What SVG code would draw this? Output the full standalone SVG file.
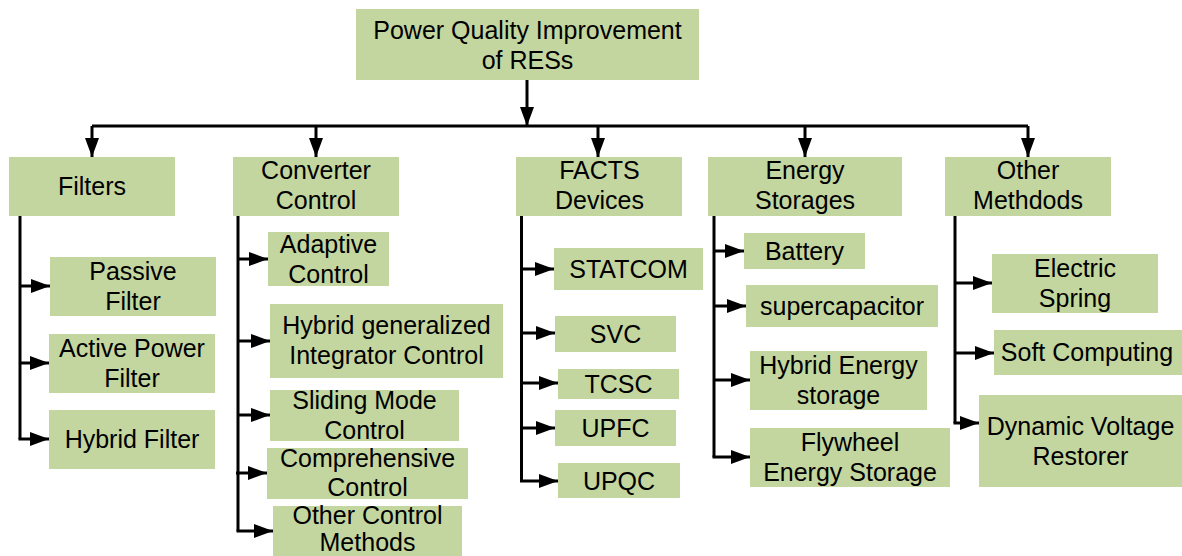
<svg xmlns="http://www.w3.org/2000/svg" width="1182" height="556" viewBox="0 0 1182 556">
<style>
.box{fill:#c4d69f;stroke:none}
.t{font-family:"Liberation Sans",Arial,sans-serif;font-size:25px;fill:#000;text-anchor:middle}
.c{fill:none;stroke:#000;stroke-width:3}
.a{fill:none;stroke:#000;stroke-width:3;marker-end:url(#ah)}
</style>
<defs>
<marker id="ah" viewBox="0 0 19 14" refX="19" refY="7" markerWidth="19" markerHeight="14" markerUnits="userSpaceOnUse" orient="auto">
<path d="M0,0 L19,7 L0,14 Z" fill="#000"/>
</marker>
</defs>
<rect width="1182" height="556" fill="#fff"/>

<g id="connectors">
<path class="a" d="M527,80 V126"/>
<path class="c" d="M92,126 H1028"/>
<path class="a" d="M92,126 V157"/>
<path class="a" d="M316,126 V157"/>
<path class="a" d="M598,126 V157"/>
<path class="a" d="M805,126 V157"/>
<path class="a" d="M1028,126 V157"/>

<path class="c" d="M20,216 V439"/>
<path class="a" d="M20,286 H50"/>
<path class="a" d="M20,363 H49"/>
<path class="a" d="M18.5,439 H49"/>

<path class="c" d="M238,216 V531"/>
<path class="a" d="M238,259 H268"/>
<path class="a" d="M238,341 H270"/>
<path class="a" d="M238,415 H270"/>
<path class="a" d="M236,473 H267"/>
<path class="a" d="M236.5,531 H273"/>

<path class="c" d="M521.5,216 V481"/>
<path class="a" d="M521.5,269 H554"/>
<path class="a" d="M521.5,333 H555"/>
<path class="a" d="M521.5,383 H558"/>
<path class="a" d="M521.5,428 H555"/>
<path class="a" d="M520,481 H558"/>

<path class="c" d="M714,216 V457"/>
<path class="a" d="M714,251 H744"/>
<path class="a" d="M714,306 H746"/>
<path class="a" d="M714,380 H750"/>
<path class="a" d="M712.5,457 H750"/>

<path class="c" d="M955,216 V423"/>
<path class="a" d="M955,283 H992"/>
<path class="a" d="M955,353 H994"/>
<path class="a" d="M953.5,423 H979"/>
</g>

<g id="root"><rect class="box" x="356" y="9" width="343" height="71"/><text class="t" x="527.5" y="38.5">Power Quality Improvement</text><text class="t" x="527.5" y="68.5">of RESs</text></g>

<g id="filters"><rect class="box" x="9" y="157" width="166" height="59"/><text class="t" x="92" y="194.5">Filters</text></g>
<g id="converter"><rect class="box" x="233" y="157" width="166" height="59"/><text class="t" x="316" y="179">Converter</text><text class="t" x="316" y="209">Control</text></g>
<g id="facts"><rect class="box" x="516" y="157" width="166" height="59"/><text class="t" x="599.5" y="179">FACTS</text><text class="t" x="599.5" y="209">Devices</text></g>
<g id="energy"><rect class="box" x="708" y="157" width="194" height="59"/><text class="t" x="805" y="179">Energy</text><text class="t" x="805" y="209">Storages</text></g>
<g id="other"><rect class="box" x="945" y="157" width="166" height="59"/><text class="t" x="1028" y="179">Other</text><text class="t" x="1028" y="209">Methdods</text></g>

<g id="passive"><rect class="box" x="50" y="257" width="166" height="59"/><text class="t" x="133" y="280">Passive</text><text class="t" x="133" y="310">Filter</text></g>
<g id="active"><rect class="box" x="49" y="334" width="166" height="59"/><text class="t" x="132" y="357">Active Power</text><text class="t" x="132" y="387">Filter</text></g>
<g id="hybridfilter"><rect class="box" x="49" y="410" width="166" height="59"/><text class="t" x="132" y="448">Hybrid Filter</text></g>

<g id="adaptive"><rect class="box" x="268" y="232" width="121" height="54"/><text class="t" x="328.5" y="253">Adaptive</text><text class="t" x="328.5" y="282.5">Control</text></g>
<g id="hgic"><rect class="box" x="270" y="304" width="233" height="74"/><text class="t" x="386.5" y="334">Hybrid generalized</text><text class="t" x="386.5" y="364">Integrator Control</text></g>
<g id="sliding"><rect class="box" x="270" y="390" width="189" height="51"/><text class="t" x="364.5" y="408.5">Sliding Mode</text><text class="t" x="364.5" y="438.5">Control</text></g>
<g id="comprehensive"><rect class="box" x="267" y="448" width="201" height="51"/><text class="t" x="367.5" y="466.5">Comprehensive</text><text class="t" x="367.5" y="496">Control</text></g>
<g id="othercontrol"><rect class="box" x="273" y="506" width="189" height="56"/><text class="t" x="367.5" y="524">Other Control</text><text class="t" x="367.5" y="551">Methods</text></g>

<g id="statcom"><rect class="box" x="554" y="248" width="149" height="42"/><text class="t" x="628.5" y="277.5">STATCOM</text></g>
<g id="svc"><rect class="box" x="555" y="316" width="121" height="36"/><text class="t" x="615.5" y="342.5">SVC</text></g>
<g id="tcsc"><rect class="box" x="558" y="369" width="121" height="30"/><text class="t" x="618.5" y="392.5">TCSC</text></g>
<g id="upfc"><rect class="box" x="555" y="410" width="121" height="36"/><text class="t" x="615.5" y="436.5">UPFC</text></g>
<g id="upqc"><rect class="box" x="558" y="463" width="122" height="35"/><text class="t" x="619" y="489.5">UPQC</text></g>

<g id="battery"><rect class="box" x="744" y="233" width="121" height="36"/><text class="t" x="804.5" y="259.5">Battery</text></g>
<g id="supercap"><rect class="box" x="746" y="285" width="192" height="42"/><text class="t" x="842" y="314.5">supercapacitor</text></g>
<g id="hes"><rect class="box" x="750" y="351" width="177" height="59"/><text class="t" x="838.5" y="374">Hybrid Energy</text><text class="t" x="838.5" y="404">storage</text></g>
<g id="flywheel"><rect class="box" x="750" y="428" width="200" height="59"/><text class="t" x="850" y="451">Flywheel</text><text class="t" x="850" y="481">Energy Storage</text></g>

<g id="spring"><rect class="box" x="992" y="254" width="166" height="59"/><text class="t" x="1075" y="277">Electric</text><text class="t" x="1075" y="307">Spring</text></g>
<g id="soft"><rect class="box" x="994" y="330" width="190" height="45"/><text class="t" x="1087" y="361">Soft Computing</text></g>
<g id="dvr"><rect class="box" x="979" y="395" width="203" height="92"/><text class="t" x="1080.5" y="435">Dynamic Voltage</text><text class="t" x="1080.5" y="465">Restorer</text></g>
</svg>
